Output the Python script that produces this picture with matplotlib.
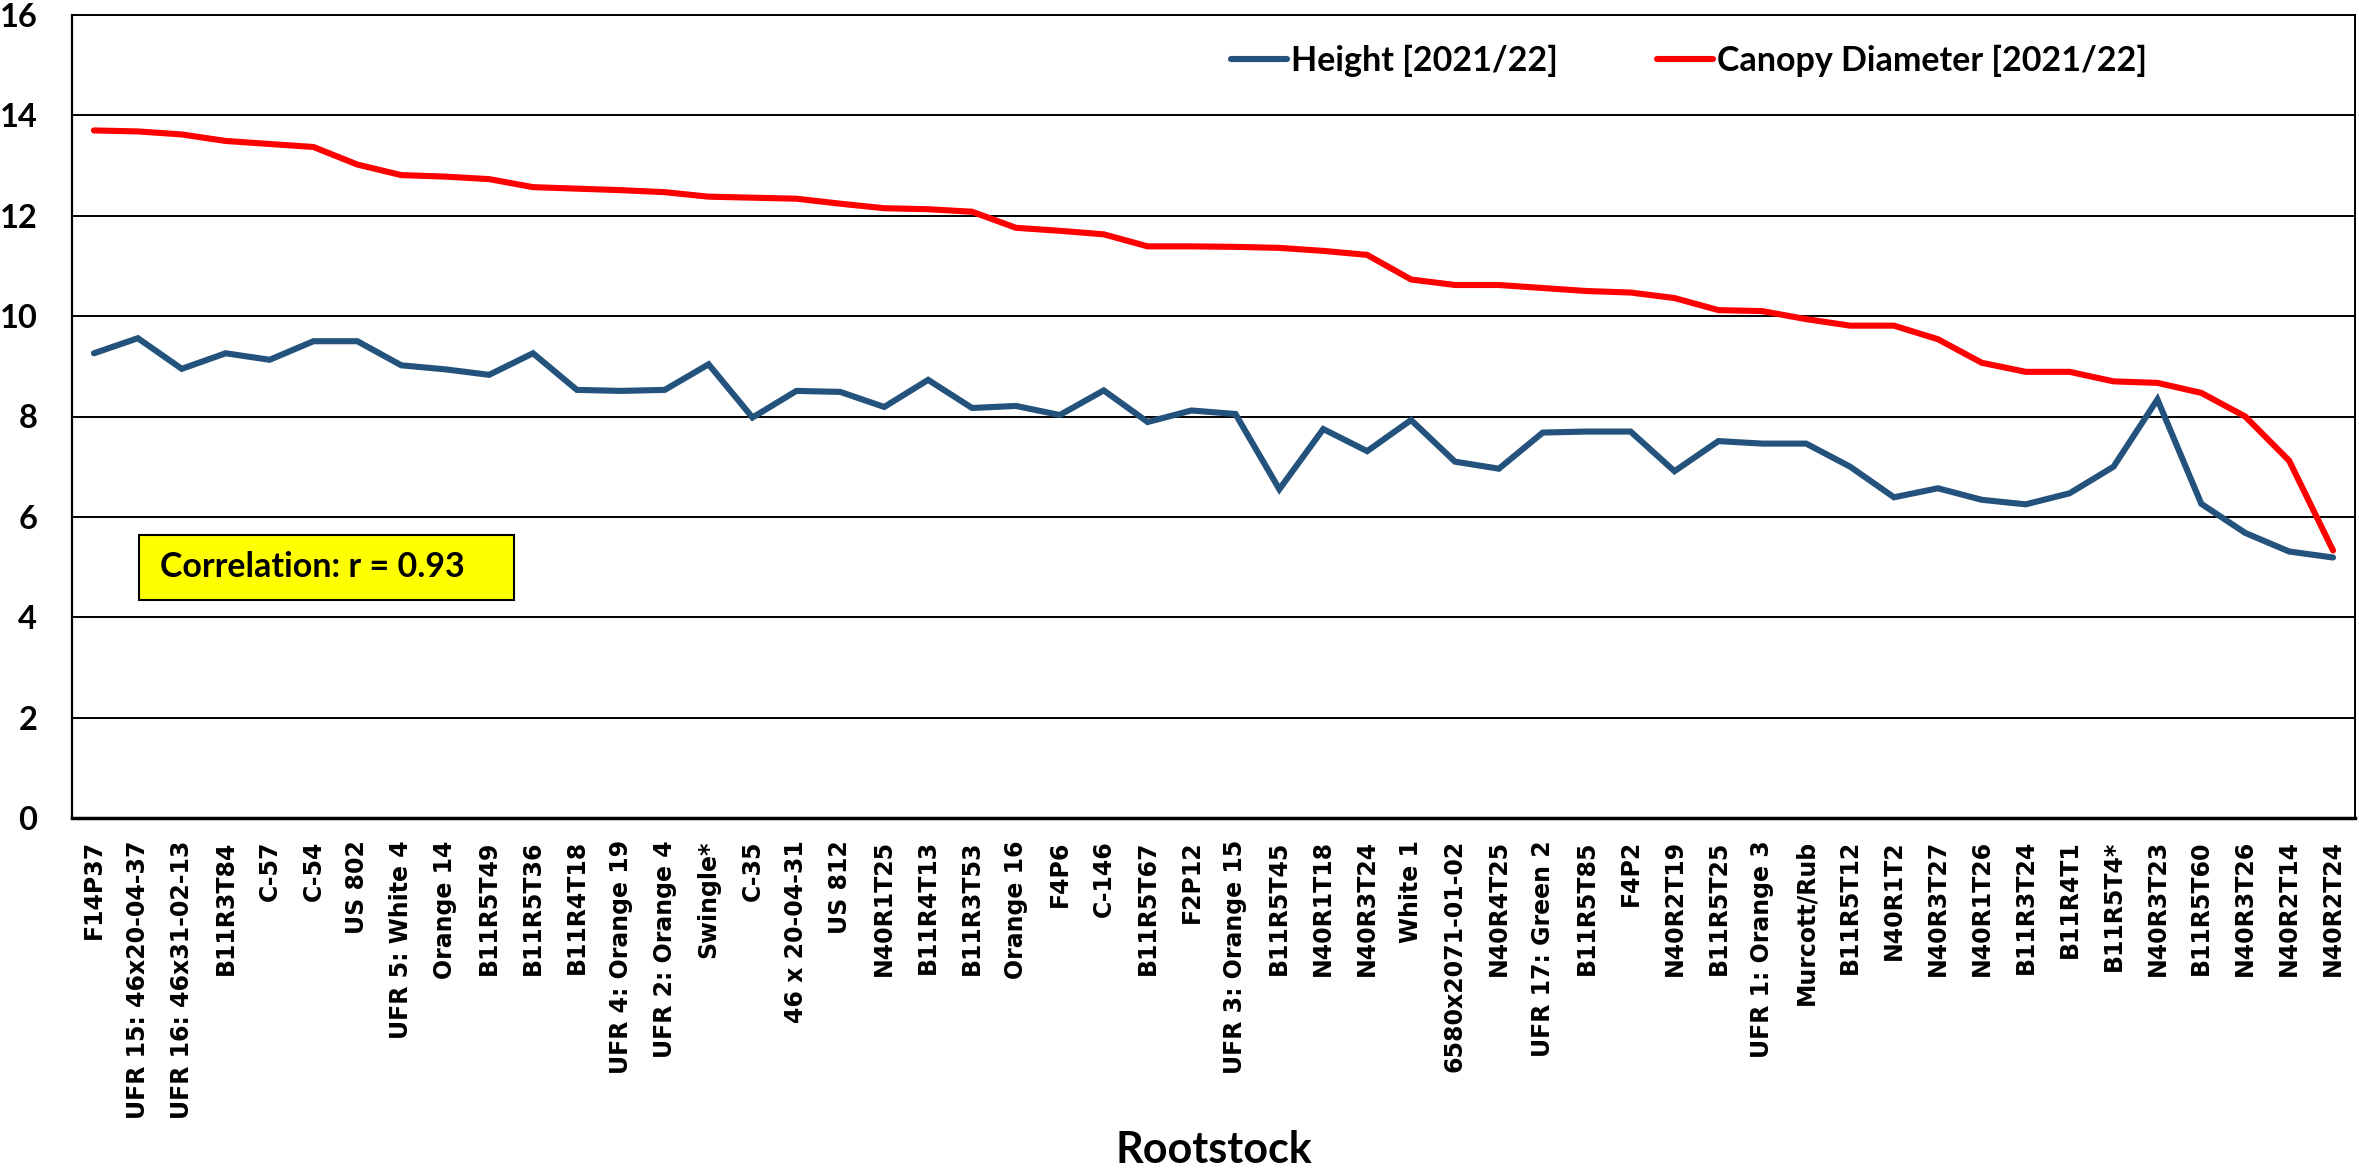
import matplotlib
matplotlib.use("Agg")
import matplotlib.pyplot as plt
from matplotlib.patches import Rectangle

rootstocks = ["F14P37", "UFR 15: 46x20-04-37", "UFR 16: 46x31-02-13", "B11R3T84", "C-57", "C-54",
              "US 802", "UFR 5: White 4", "Orange 14", "B11R5T49", "B11R5T36", "B11R4T18",
              "UFR 4: Orange 19", "UFR 2: Orange 4", "Swingle*", "C-35", "46 x 20-04-31", "US 812",
              "N40R1T25", "B11R4T13", "B11R3T53", "Orange 16", "F4P6", "C-146", "B11R5T67", "F2P12",
              "UFR 3: Orange 15", "B11R5T45", "N40R1T18", "N40R3T24", "White 1", "6580x2071-01-02",
              "N40R4T25", "UFR 17: Green 2", "B11R5T85", "F4P2", "N40R2T19", "B11R5T25",
              "UFR 1: Orange 3", "Murcott/Rub", "B11R5T12", "N40R1T2", "N40R3T27", "N40R1T26",
              "B11R3T24", "B11R4T1", "B11R5T4*", "N40R3T23", "B11R5T60", "N40R3T26", "N40R2T14",
              "N40R2T24"]

height = [9.26, 9.56, 8.95, 9.26, 9.13, 9.50, 9.50, 9.02, 8.94, 8.83, 9.26, 8.53, 8.51, 8.53,
          9.04, 7.98, 8.51, 8.49, 8.19, 8.73, 8.17, 8.21, 8.03, 8.52, 7.89, 8.12, 8.05, 6.55,
          7.75, 7.31, 7.93, 7.10, 6.96, 7.68, 7.70, 7.70, 6.91, 7.51, 7.46, 7.46, 7.00, 6.39,
          6.57, 6.34, 6.25, 6.47, 7.00, 8.34, 6.26, 5.68, 5.31, 5.19]

canopy = [13.70, 13.68, 13.62, 13.49, 13.43, 13.37, 13.02, 12.81, 12.78, 12.73, 12.57, 12.54,
          12.51, 12.47, 12.38, 12.36, 12.34, 12.24, 12.15, 12.13, 12.08, 11.76, 11.70, 11.63,
          11.39, 11.39, 11.38, 11.36, 11.30, 11.22, 10.73, 10.62, 10.62, 10.56, 10.50, 10.47,
          10.36, 10.12, 10.10, 9.94, 9.81, 9.81, 9.54, 9.07, 8.89, 8.89, 8.70, 8.67, 8.47,
          8.00, 7.12, 5.33]

y_ticks = [0, 2, 4, 6, 8, 10, 12, 14, 16]

W, H = 2359, 1173
fig = plt.figure(figsize=(W / 100, H / 100), dpi=100)
left, right, top, bottom = 72, 2355, 15, 818
ax = fig.add_axes([left / W, 1 - bottom / H, (right - left) / W, (bottom - top) / H])

x = list(range(len(rootstocks)))
ax.plot(x, height, color="#23527C", lw=4.4, solid_capstyle="round", solid_joinstyle="miter",
        label="Height [2021/22]", zorder=3)
ax.plot(x, canopy, color="#FF0000", lw=4.4, solid_capstyle="round", solid_joinstyle="miter",
        label="Canopy Diameter [2021/22]", zorder=3)

ax.set_xlim(-0.5, len(rootstocks) - 0.5)
ax.set_ylim(0, 16)
ax.set_yticks(y_ticks)
ax.set_yticklabels([str(t) for t in y_ticks], fontfamily="Lato", fontweight="bold", fontsize=23.5)
ax.set_xticks(x)
ax.set_xticklabels(rootstocks, rotation=90, fontfamily="DejaVu Sans", fontweight="bold",
                   fontsize=17, ha="center", va="top")
ax.tick_params(axis="x", length=0, pad=16)
ax.tick_params(axis="y", length=0, pad=25)

ax.yaxis.grid(True, color="black", lw=1.4)
ax.set_axisbelow(True)
for s in ax.spines.values():
    s.set_color("black")
    s.set_linewidth(1.4)
ax.spines["bottom"].set_linewidth(2.5)
ax.spines["left"].set_linewidth(1.6)

ax.set_xlabel("Rootstock", fontfamily="Lato", fontweight="bold", fontsize=31, labelpad=8)

leg = fig.legend(loc="center left", bbox_to_anchor=(1231 / W, 1 - 61 / H), ncol=2,
                 frameon=False, borderpad=0, borderaxespad=0, handlelength=1.65,
                 handletextpad=0.12, columnspacing=2.9,
                 prop={"family": "Lato", "weight": "bold", "size": 24.5})

bx0, bx1, by0, by1 = 139, 514, 535, 600
ax.add_patch(Rectangle(((bx0 - left) / (right - left), (bottom - by1) / (bottom - top)),
                       (bx1 - bx0) / (right - left), (by1 - by0) / (bottom - top),
                       transform=ax.transAxes, facecolor="#FFFF00", edgecolor="black",
                       lw=1.5, zorder=4))
ax.text((160 - left) / (right - left), (bottom - 567) / (bottom - top), "Correlation: r = 0.93",
        transform=ax.transAxes, fontfamily="Lato", fontweight="bold", fontsize=24.5,
        va="center", ha="left", zorder=5)

fig.savefig("out.png", dpi=100)
